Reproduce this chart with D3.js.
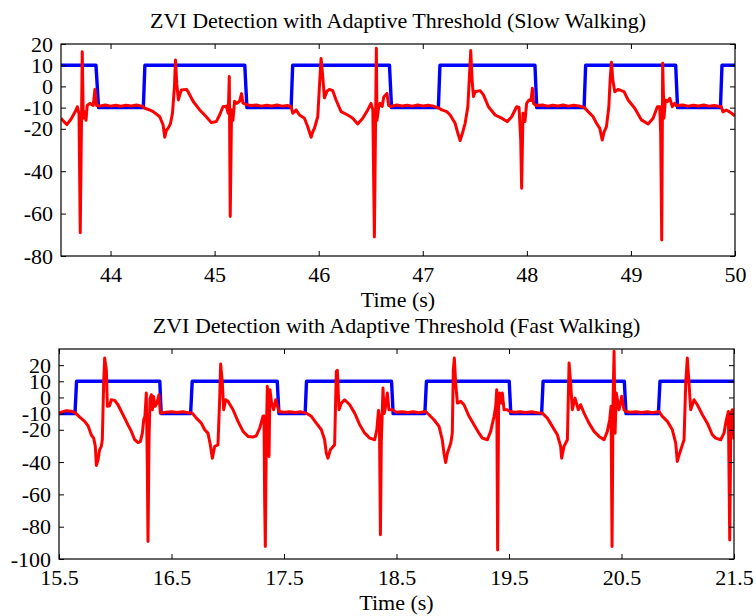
<!DOCTYPE html>
<html>
<head>
<meta charset="utf-8">
<style>
  body { margin: 0; background: #fff; }
  text { font-family: "Liberation Serif", "Times New Roman", serif; fill: #000; }
</style>
</head>
<body>
<script src="https://d3js.org/d3.v7.min.js"></script>
<script>

    // ---- slow walking data ----
    var slowXTicks = [44, 45, 46, 47, 48, 49, 50];
    var slowYTicks = [20, 10, 0, -10, -20, -40, -60, -80];

    var slowThreshTime = [43.524, 43.86, 43.885, 44.315, 44.33, 45.29, 45.31, 45.735, 45.75, 46.68, 46.70,
        47.15, 47.165, 48.078, 48.095, 48.55, 48.565, 49.43, 49.448, 49.86, 49.875, 50];
    var slowThreshValue = [10, 10, -10, -10, 10, 10, -10, -10, 10, 10, -10,
        -10, 10, 10, -10, -10, 10, 10, -10, -10, 10, 10];

    var slowTime = [43.524, 43.55, 43.58, 43.62, 43.66, 43.681, 43.697, 43.709, 43.722, 43.728, 43.738,
        43.754, 43.764, 43.776, 43.802, 43.834, 43.85, 43.866, 43.9, 43.95, 44.0, 44.05, 44.1, 44.15,
        44.2, 44.25, 44.3,
        44.33, 44.37, 44.41, 44.473, 44.505, 44.521, 44.537, 44.553, 44.575, 44.595, 44.614, 44.624,
        44.636, 44.652, 44.665, 44.681, 44.729, 44.745, 44.793, 44.857, 44.92, 44.968, 45.016, 45.048,
        45.08, 45.112, 45.131, 45.141, 45.15, 45.163, 45.176, 45.192, 45.214, 45.24, 45.259, 45.272,
        45.304, 45.35, 45.4, 45.45, 45.5, 45.55, 45.6, 45.65, 45.7,
        45.735, 45.751, 45.783, 45.815, 45.863, 45.895, 45.927, 45.943, 45.959, 45.991, 46.007, 46.023,
        46.039, 46.055, 46.081, 46.103, 46.135, 46.167, 46.215, 46.279, 46.327, 46.375, 46.423, 46.471,
        46.503, 46.52, 46.535, 46.554, 46.56, 46.576, 46.59, 46.61, 46.625, 46.656, 46.672, 46.69,
        46.75, 46.8, 46.85, 46.9, 46.95, 47.0, 47.05, 47.1,
        47.158, 47.183, 47.231, 47.263, 47.311, 47.337, 47.359, 47.381, 47.407, 47.433, 47.448, 47.461,
        47.474, 47.487, 47.503, 47.551, 47.583, 47.631, 47.695, 47.758, 47.813, 47.854, 47.902, 47.925,
        47.941, 47.95, 47.963, 47.982, 47.998, 48.02, 48.04, 48.053, 48.065, 48.085,
        48.15, 48.2, 48.25, 48.3, 48.35, 48.4, 48.45, 48.5,
        48.551, 48.589, 48.637, 48.669, 48.701, 48.724, 48.743, 48.765, 48.788, 48.8, 48.813, 48.826,
        48.845, 48.877, 48.934, 48.973, 49.037, 49.101, 49.165, 49.213, 49.254, 49.277, 49.286, 49.296,
        49.305, 49.318, 49.331, 49.35, 49.373, 49.398, 49.42, 49.436,
        49.5, 49.55, 49.6, 49.65, 49.7, 49.75, 49.8,
        49.868, 49.884, 49.916, 49.948, 49.989, 50];
    var slowSignal = [-15, -16.5, -18, -15.5, -12, -9.6, -13, -69, -12, 16.4, -15,
        -12, -16, -9, -8, -9, -1.4, -9, -9.2, -8.8, -9.3, -8.9, -9.4, -8.9,
        -9.2, -8.8, -9.3,
        -10.3, -11, -11.9, -14.3, -18.2, -24, -20.6, -19.8, -17.7, -12.7, -0.1, 12.5,
        1.4, -6.4, -4, -1.7, -1.4, -2.5, -7, -11.1, -14.3, -17.1, -16.6, -13.5,
        -9.6, -9.3, -12.7, 4.7, -61.4, -11, -16, -7, -8, -7, -3.4, -7.8,
        -8.6, -9, -8.8, -9.3, -8.9, -9.2, -8.8, -9.3, -9,
        -9.6, -12.7, -11.1, -13.5, -15, -19, -24, -21.4, -19.8, -14.3, -0.1, 13.2,
        4.5, -5.4, -2.2, -1.4, -2, -6.4, -11.9, -13.5, -15, -17.7, -15, -11.1,
        -8, -11, -71, 18, -16, -10, -8, -9.5, -5, -3.3, -9, -9.5,
        -8.8, -9.2, -8.9, -9.3, -8.8, -9.2, -8.9, -9.3,
        -10.3, -11.1, -11.9, -13.5, -17.4, -22.1, -25.6, -22.1, -17.4, -9.6, 4.5, 16.9,
        3, -4.8, -2.5, -2, -4, -9.6, -13.5, -15, -16.6, -14.3, -9.6, -9.9,
        -25.3, -48, -12.7, -16.6, -8, -6.4, -6.7, -0.9, -8, -9,
        -8.8, -9.3, -8.9, -9.2, -8.8, -9.3, -8.9, -9.2,
        -9.9, -11.9, -14.3, -17.4, -19.8, -25.3, -21.4, -19, -9.6, 3, 11.4, 3,
        -2.5, -1.4, -2.5, -6.4, -10.3, -15.8, -17.7, -15, -9.6, -9.6, -22.1, -72.4,
        10.9, -15, -6.4, -7.2, -5.6, -9.6, -8, -9,
        -8.8, -9.3, -8.9, -9.2, -8.8, -9.3, -9,
        -9.6, -12, -11.1, -12, -13.5, -14];

    // ---- fast walking data ----
    var fastXTicks = [15.5, 16.5, 17.5, 18.5, 19.5, 20.5, 21.5];
    var fastYTicks = [20, 10, 0, -10, -20, -40, -60, -80, -100];

    var fastThreshTime = [15.5, 15.642, 15.656, 16.396, 16.408, 16.67, 16.684, 17.44, 17.455, 17.688, 17.7,
        18.456, 18.47, 18.752, 18.766, 19.502, 19.516, 19.79, 19.803, 20.525, 20.54, 20.828, 20.842, 21.5];
    var fastThreshValue = [-10, -10, 10, 10, -10, -10, 10, 10, -10, -10, 10,
        10, -10, -10, 10, 10, -10, -10, 10, 10, -10, -10, 10, 10];

    var fastTime = [15.5, 15.535, 15.565, 15.61, 15.648, 15.684, 15.728, 15.758, 15.787, 15.808, 15.823,
        15.832, 15.847, 15.861, 15.876, 15.885, 15.897, 15.906, 15.921, 15.93, 15.95, 15.965, 15.995,
        16.024, 16.054, 16.084, 16.113, 16.143, 16.173, 16.203, 16.223, 16.241, 16.253, 16.264, 16.276,
        16.285, 16.291, 16.3, 16.309, 16.321, 16.33, 16.341, 16.353, 16.371, 16.389, 16.401,
        16.45, 16.5, 16.55, 16.6, 16.65,
        16.685, 16.721, 16.765, 16.795, 16.824, 16.845, 16.863, 16.884, 16.913, 16.928, 16.937, 16.952,
        16.964, 16.981, 17.002, 17.047, 17.091, 17.136, 17.18, 17.224, 17.254, 17.284, 17.313, 17.322,
        17.328, 17.334, 17.343, 17.352, 17.361, 17.367, 17.375, 17.39, 17.408, 17.426, 17.441, 17.456,
        17.5, 17.55, 17.6, 17.65,
        17.699, 17.743, 17.787, 17.832, 17.861, 17.876, 17.891, 17.912, 17.95, 17.965, 17.974, 17.989,
        18.01, 18.039, 18.084, 18.128, 18.173, 18.218, 18.262, 18.306, 18.325, 18.34, 18.348, 18.357,
        18.365, 18.38, 18.39, 18.398, 18.419, 18.433, 18.463,
        18.5, 18.55, 18.6, 18.65, 18.7,
        18.759, 18.789, 18.833, 18.878, 18.907, 18.922, 18.937, 18.952, 18.982, 18.996, 19.005, 19.014,
        19.026, 19.041, 19.071, 19.1, 19.145, 19.189, 19.233, 19.263, 19.308, 19.337, 19.367, 19.382,
        19.391, 19.399, 19.408, 19.417, 19.429, 19.441, 19.456, 19.485, 19.509,
        19.55, 19.6, 19.65, 19.7, 19.75,
        19.796, 19.841, 19.885, 19.93, 19.959, 19.968, 19.989, 20.019, 20.034, 20.048, 20.063, 20.087,
        20.116, 20.137, 20.167, 20.211, 20.256, 20.3, 20.345, 20.374, 20.395, 20.407, 20.416, 20.425,
        20.434, 20.443, 20.454, 20.478, 20.502, 20.522, 20.537,
        20.58, 20.63, 20.68, 20.73, 20.78,
        20.834, 20.863, 20.908, 20.952, 20.982, 20.996, 21.017, 21.056, 21.071, 21.085, 21.1, 21.115,
        21.145, 21.174, 21.219, 21.263, 21.307, 21.337, 21.382, 21.411, 21.432, 21.45, 21.462, 21.473,
        21.485, 21.5];
    var fastSignal = [-9.7, -8.8, -8.2, -8.5, -9.7, -12.2, -14.8, -17.5, -23.1, -25.2, -30.3,
        -42.1, -38.6, -32.4, -30.3, -26.2, 8.9, 24.4, 17.1, -5.5, -5.1, -1.4, -1.8,
        -4.5, -8.7, -12.8, -17, -21, -26.2, -27.9, -27.3, -22.1, -13.8, -11.7, 2.7,
        -42, -89.2, -27.3, -0.6, 1.7, -7.6, 0.6, -5.5, -3.5, 1.7, -9.7,
        -9.2, -8.8, -9.3, -8.9, -9.4,
        -9.7, -12.8, -15.9, -20, -22.1, -29.3, -37.6, -30.3, -29.3, -1.4, 20.7, 8.9,
        -7.6, -1.4, -2.4, -7.6, -14.8, -21, -24.1, -24.5, -23.7, -19, -11.7, -11.3,
        -63, -92.3, -22.1, 6.9, -26.2, -36.5, 4.8, -3.5, -7.6, -1.4, -5.1, -8.7,
        -9.2, -8.8, -9.3, -8.9,
        -9.7, -11.7, -15.9, -20, -26.2, -34.5, -37.6, -32.4, -29.3, 16.2, 16.8, -7.6,
        -3.5, -1.4, -4.5, -9.7, -16.9, -22.1, -25.2, -26.2, -20, -8, -12, -85,
        -28, 5.8, -10, -7.6, 2.7, -7.6, -7.6,
        -9.2, -8.8, -9.3, -8.9, -9.4,
        -8.7, -10.7, -13.8, -17.9, -26.2, -34.5, -40.3, -34.5, -28.3, -22.1, 17.1, 24.4,
        8.9, -3.5, -2.4, -4.5, -11.7, -16.9, -22.1, -25.2, -26.2, -21, -11.7, -5.5,
        4.8, -94.4, -1.4, 2.7, -3.5, 2.7, -7.6, -7.6, -8.7,
        -9.2, -8.8, -9.3, -8.9, -9.4,
        -9.7, -12.8, -17.9, -23.1, -30.3, -37.6, -30.3, -26.2, 21.3, 8.9, -7.6, -0.4,
        -7.6, -4.5, -9.7, -15.9, -21, -24.1, -26.2, -21, -13.8, -5.5, -92.3, -1.4,
        28.6, -22.1, 2.7, -7.6, 0.7, -7.6, -8.7,
        -9.2, -8.8, -9.3, -8.9, -9.4,
        -8.7, -11.7, -14.8, -20, -28.3, -39.6, -34.5, -26.2, 8.9, 24.4, 8.9, -7.6,
        -1.4, -4.5, -10.7, -15.9, -23.1, -25.2, -26.2, -22.1, -13.8, -8.7, -88.2, -9.7,
        -7.6, -26];

    // MATLAB prints a plain hyphen for negative tick labels
    function hyphen(f) {
        return function (d) { return f(d).replace("\u2212", "-"); };
    }

    var panels = [
        {title: "ZVI Detection with Adaptive Threshold (Slow Walking)",
         time: slowTime, signal: slowSignal, thTime: slowThreshTime, thValue: slowThreshValue,
         xTicks: slowXTicks, yTicks: slowYTicks, xDomain: [43.524, 50], yDomain: [-80, 20],
         left: 61, right: 735, top: 44, bottom: 256, fmt: d3.format("d")},
        {title: "ZVI Detection with Adaptive Threshold (Fast Walking)",
         time: fastTime, signal: fastSignal, thTime: fastThreshTime, thValue: fastThreshValue,
         xTicks: fastXTicks, yTicks: fastYTicks, xDomain: [15.5, 21.5], yDomain: [-100, 30],
         left: 59, right: 734, top: 349, bottom: 559, fmt: d3.format(".1f")}
    ];

    var width = 756, height = 616;
    var svg = d3.select("body").append("svg").attr("width", width).attr("height", height);

    panels.forEach(function (p, i) {
        var x = d3.scaleLinear().domain(p.xDomain).range([p.left, p.right]);
        var y = d3.scaleLinear().domain(p.yDomain).range([p.bottom, p.top]);
        var g = svg.append("g");

        g.append("clipPath").attr("id", "clip" + i)
            .append("rect").attr("x", p.left).attr("y", p.top)
            .attr("width", p.right - p.left).attr("height", p.bottom - p.top);

        var th = p.thTime.map(function (t, k) { return [t, p.thValue[k]]; });
        var sig = p.time.map(function (t, k) { return [t, p.signal[k]]; });
        var line = d3.line().x(function (d) { return x(d[0]); }).y(function (d) { return y(d[1]); });

        var plot = g.append("g").attr("clip-path", "url(#clip" + i + ")");
        plot.append("path").datum(th).attr("d", line)
            .attr("fill", "none").attr("stroke", "#0000ff").attr("stroke-width", 3.4)
            .attr("stroke-linejoin", "round");
        plot.append("path").datum(sig).attr("d", line)
            .attr("fill", "none").attr("stroke", "#ff0000").attr("stroke-width", 3)
            .attr("stroke-linejoin", "round");

        // axes, MATLAB style: ticks pointing in, box all round
        var fs = 22;
        g.append("g").attr("transform", "translate(0," + p.bottom + ")")
            .call(d3.axisBottom(x).tickValues(p.xTicks).tickFormat(p.fmt).tickSizeInner(-5).tickSizeOuter(0).tickPadding(10))
            .call(function (a) { a.select(".domain").remove(); });
        g.append("g").attr("transform", "translate(0," + p.top + ")")
            .call(d3.axisTop(x).tickValues(p.xTicks).tickFormat("").tickSizeInner(-5).tickSizeOuter(0))
            .call(function (a) { a.select(".domain").remove(); });
        g.append("g").attr("transform", "translate(" + p.left + ",0)")
            .call(d3.axisLeft(y).tickValues(p.yTicks).tickFormat(hyphen(d3.format("d"))).tickSizeInner(-5).tickSizeOuter(0).tickPadding(8))
            .call(function (a) { a.select(".domain").remove(); });
        g.append("g").attr("transform", "translate(" + p.right + ",0)")
            .call(d3.axisRight(y).tickValues(p.yTicks).tickFormat("").tickSizeInner(-5).tickSizeOuter(0))
            .call(function (a) { a.select(".domain").remove(); });

        g.selectAll(".tick line").attr("stroke", "#000");
        g.selectAll(".tick text").attr("font-family", "Liberation Serif, serif").attr("font-size", fs).attr("fill", "#000");

        g.append("rect").attr("x", p.left).attr("y", p.top)
            .attr("width", p.right - p.left).attr("height", p.bottom - p.top)
            .attr("fill", "none").attr("stroke", "#000").attr("stroke-width", 1.2);

        g.append("text").attr("x", (p.left + p.right) / 2).attr("y", p.top - 16)
            .attr("text-anchor", "middle").attr("font-size", fs).text(p.title);
        g.append("text").attr("x", (p.left + p.right) / 2).attr("y", p.bottom + 51)
            .attr("text-anchor", "middle").attr("font-size", fs).text("Time (s)");
    });

</script>
</body>
</html>
